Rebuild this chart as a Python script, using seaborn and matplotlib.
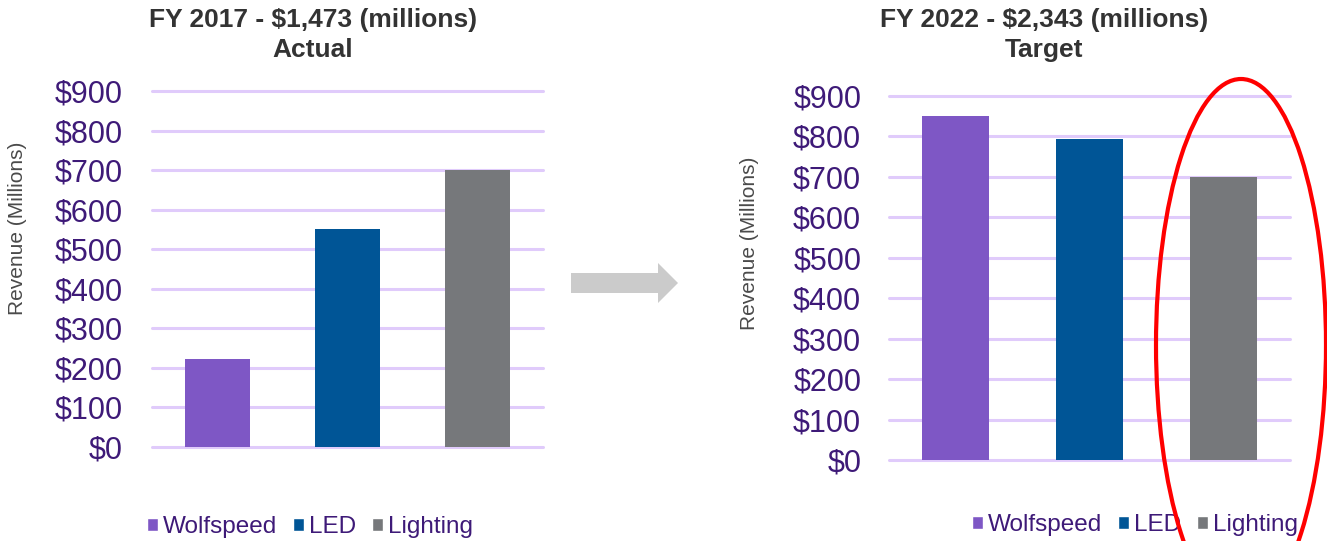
import pandas as pd
import matplotlib
matplotlib.use("Agg")
import matplotlib.pyplot as plt
import seaborn as sns
from matplotlib.patches import Patch, Polygon, Ellipse
from matplotlib.ticker import FuncFormatter

# segment revenue ($ millions)
segments = ["Wolfspeed", "LED", "Lighting"]
rev_2017 = [223, 550, 700]
rev_2022 = [850, 793, 700]
seg_colors = ["#7E57C5", "#005596", "#76787B"]
yticks = [0, 100, 200, 300, 400, 500, 600, 700, 800, 900]
titles = [("FY 2017 - $1,473 (millions)", "Actual"),
          ("FY 2022 - $2,343 (millions)", "Target")]

PURPLE = "#3E1A78"
GRID = "#E0CBFB"
W, H = 1327, 541

sns.set_theme(style="white")
plt.rcParams["font.family"] = ["Liberation Sans", "DejaVu Sans"]

fig = plt.figure(figsize=(W / 100, H / 100), dpi=100)


def px_box(x0, y0, x1, y1):
    # pixel box (top-left origin) -> figure fraction
    return [x0 / W, 1 - y1 / H, (x1 - x0) / W, (y1 - y0) / H]


def draw_panel(box, values, title, label_xy, pad, title_x, legend_xy):
    ax = fig.add_axes(px_box(*box))
    df = pd.DataFrame({"segment": segments, "revenue": values})
    sns.barplot(data=df, x="segment", y="revenue", hue="segment",
                palette=seg_colors, width=0.5, legend=False,
                linewidth=0, saturation=1, ax=ax)
    ax.set_xlim(-0.5, 2.5)
    ax.set_ylim(0, 900)
    ax.set_yticks(yticks)
    ax.yaxis.set_major_formatter(FuncFormatter(lambda v, _: f"${v:,.0f}"))
    ax.tick_params(axis="y", length=0, pad=pad, labelsize=22, labelcolor=PURPLE)
    ax.set_xticks([])
    ax.set_xlabel("")
    ax.set_ylabel("Revenue (Millions)", fontsize=15, color="#4A4A4A", va="center")
    ax.yaxis.set_label_coords(*label_xy)
    ax.set_axisbelow(True)
    ax.grid(axis="y", color=GRID, linewidth=2.2)
    for gl in ax.get_ygridlines():
        gl.set_clip_on(False)
    sns.despine(ax=ax, left=True, bottom=True)

    fig.text(title_x / W, 1 - 20 / H, title[0], ha="center", va="center",
             fontsize=19, fontweight="bold", color="#333333")
    fig.text(title_x / W, 1 - 50 / H, title[1], ha="center", va="center",
             fontsize=19, fontweight="bold", color="#333333")

    handles = [Patch(facecolor=c, label=s) for s, c in zip(segments, seg_colors)]
    fig.legend(handles=handles, loc="center", ncol=3, frameon=False,
               bbox_to_anchor=(legend_xy[0] / W, 1 - legend_xy[1] / H),
               fontsize=17.5, labelcolor=PURPLE, handlelength=0.45,
               handleheight=0.45, handletextpad=0.22, columnspacing=0.65)
    return ax


draw_panel((152, 91, 543, 447), rev_2017, titles[0], (-0.343, 0.615), 21, 313, (310, 527))
draw_panel((889, 96, 1290, 460), rev_2022, titles[1], (-0.347, 0.596), 20, 1044, (1135, 525))

# overlay in pixel units for the arrow and the red call-out ring
ov = fig.add_axes([0, 0, 1, 1], zorder=10)
ov.set_xlim(0, W)
ov.set_ylim(H, 0)
ov.axis("off")
ov.patch.set_alpha(0)
arrow = [(571, 273), (658, 273), (658, 263), (678, 283),
         (658, 303), (658, 293), (571, 293)]
ov.add_patch(Polygon(arrow, closed=True, facecolor="#CBCBCB", edgecolor="none"))
ov.add_patch(Ellipse((1241, 345), 170, 532, fill=False, edgecolor="#FF0000", linewidth=3))

fig.savefig("out.png", dpi=100)
